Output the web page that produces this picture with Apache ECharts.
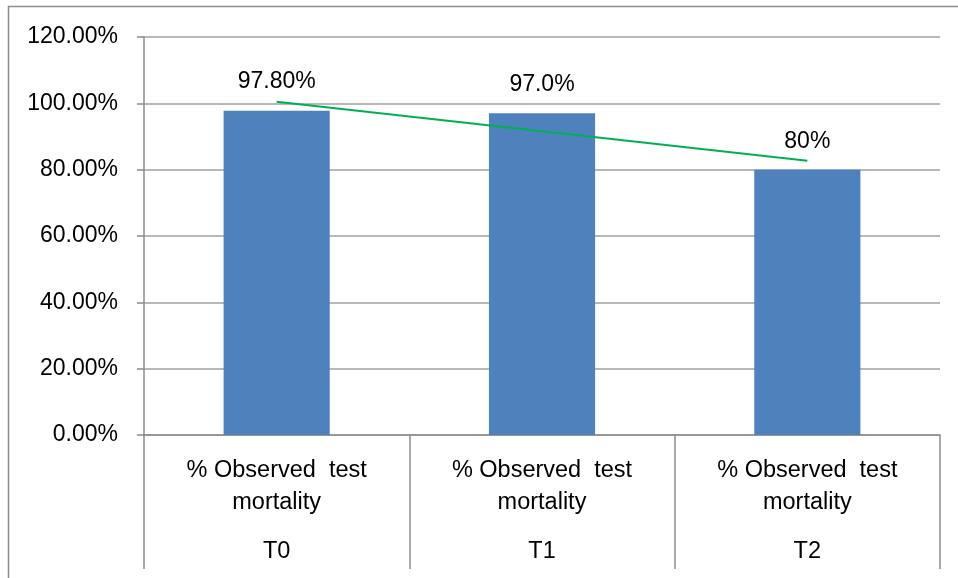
<!DOCTYPE html>
<html><head><meta charset="utf-8">
<script src="https://cdn.jsdelivr.net/npm/echarts@6/dist/echarts.min.js"></script>
<style>html,body{margin:0;padding:0;background:#fff}#c{width:958px;height:578px}</style>
</head><body><div id="c"></div>
<script>
var categories = ['T0', 'T1', 'T2'];
var groupLabel = '% Observed  test\nmortality';
var values = [97.8, 97.0, 80.0];
var valueLabels = ['97.80%', '97.0%', '80%'];
var trendValues = [100.5, 91.6, 82.7];
var yTicks = [0, 20, 40, 60, 80, 100, 120];

var font = 'Liberation Sans';
var chart = echarts.init(document.getElementById('c'));
chart.setOption({
  animation: false,
  backgroundColor: '#fff',
  textStyle: { fontFamily: font },
  graphic: [{
    type: 'rect', silent: true,
    shape: { x: 8.5, y: 6.5, width: 980, height: 620 },
    style: { fill: 'none', stroke: '#8c8c8c', lineWidth: 1.5 }
  }],
  grid: { left: 144, right: 18, top: 37, bottom: 143, containLabel: false },
  xAxis: {
    type: 'category', data: categories,
    axisLine: { lineStyle: { color: '#8c8c8c', width: 1.5 } },
    axisTick: { show: true, length: 134, lineStyle: { color: '#8c8c8c', width: 1.5 } },
    axisLabel: {
      margin: 20, interval: 0,
      formatter: function (v) {
        var p = groupLabel.split('\n');
        return '{a|' + p[0] + '}\n{a|' + p[1] + '}\n{b|' + v + '}';
      },
      rich: {
        a: { fontSize: 23.5, lineHeight: 32, color: '#000', fontFamily: font },
        b: { fontSize: 23.5, lineHeight: 66, color: '#000', fontFamily: font }
      }
    }
  },
  yAxis: {
    type: 'value', min: yTicks[0], max: yTicks[yTicks.length - 1], interval: 20,
    axisLine: { show: true, lineStyle: { color: '#8c8c8c', width: 1.5 } },
    axisTick: { show: true, length: 7, lineStyle: { color: '#8c8c8c', width: 1.5 } },
    splitLine: { lineStyle: { color: '#a0a0a0', width: 1.5 } },
    axisLabel: { margin: 26, fontSize: 23, color: '#000', fontFamily: font,
      formatter: function (v) { return v.toFixed(2) + '%'; } }
  },
  series: [{
    type: 'bar', data: values, barWidth: '40%',
    itemStyle: { color: '#4f81bd' },
    label: { show: true, position: 'top', distance: 17, fontSize: 23, color: '#000', fontFamily: font,
      formatter: function (p) { return valueLabels[p.dataIndex]; } }
  }, {
    type: 'line', data: trendValues, symbol: 'none', silent: true,
    lineStyle: { color: '#00b050', width: 2 }
  }]
});
</script></body></html>
